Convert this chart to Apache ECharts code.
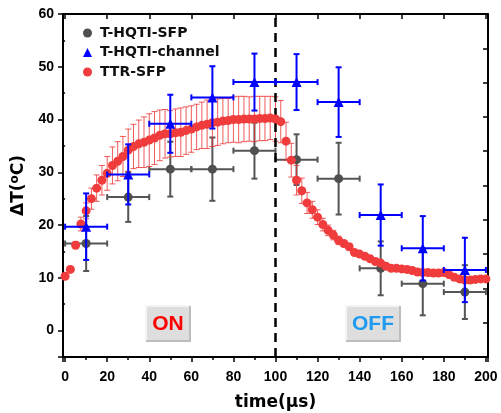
<!DOCTYPE html>
<html>
<head>
<meta charset="utf-8">
<script src="https://cdn.jsdelivr.net/npm/echarts@6/dist/echarts.min.js"></script>
<style>html,body{margin:0;padding:0;background:#fff;}#c{width:501px;height:413px;}</style>
</head>
<body>
<div id="c"></div>
<script>
// ---- data ----
const tGray = [10, 30, 50, 70, 90, 110, 130, 150, 170, 190];
const yGray = [16.5, 25.3, 30.6, 30.6, 34.1, 32.4, 28.8, 11.8, 8.9, 7.3];
const eyGray = [5.2, 4.7, 5.2, 6.0, 5.3, 4.8, 6.8, 5.1, 6.0, 5.1];
const exGray = [10, 10, 10, 10, 10, 10, 10, 10, 10, 10];

const tBlue = [10, 30, 50, 70, 90, 110, 130, 150, 170, 190];
const yBlue = [19.7, 29.6, 39.2, 44.2, 47.1, 47.1, 43.3, 21.9, 15.6, 11.5];
const eyBlue = [6.3, 5.7, 5.5, 5.9, 5.4, 5.3, 6.6, 5.8, 6.1, 6.1];
const exBlue = [10, 10, 10, 10, 10, 10, 10, 10, 10, 10];

const tRed = [0, 2.5, 5, 7.5, 10, 12.5, 15, 17.5, 20, 22.5, 25, 27.5, 30, 32.5, 35, 37.5, 40,
  42.5, 45, 47.5, 50, 52.5, 55, 57.5, 60, 62.5, 65, 67.5, 70, 72.5, 75, 77.5, 80,
  82.5, 85, 87.5, 90, 92.5, 95, 97.5, 100, 102.5, 105, 107.5, 110, 112.5, 115, 117.5, 120,
  122.5, 125, 127.5, 130, 132.5, 135, 137.5, 140, 142.5, 145, 147.5, 150, 152.5, 155, 157.5, 160,
  162.5, 165, 167.5, 170, 172.5, 175, 177.5, 180, 182.5, 185, 187.5, 190, 192.5, 195, 197.5, 200];
const yRed = [10.3, 11.6, 16.2, 20.2, 22.7, 25.0, 27.0, 28.5, 29.8, 31.3, 32.1, 33.0, 34.2, 34.9, 35.4, 35.7, 36.1,
  36.5, 37.0, 37.3, 37.3, 37.5, 37.6, 37.9, 38.2, 38.6, 38.9, 39.1, 39.4, 39.5, 39.7, 39.8, 40.0,
  40.0, 40.1, 40.1, 40.1, 40.2, 40.2, 40.3, 40.1, 39.6, 35.9, 32.3, 28.5, 26.5, 24.2, 22.9, 21.5,
  20.1, 19.0, 18.1, 17.1, 16.5, 15.9, 14.8, 14.5, 14.1, 13.6, 13.1, 12.8, 12.2, 11.8, 11.8, 11.7,
  11.6, 11.4, 11.1, 11.0, 11.0, 10.9, 10.9, 11.0, 10.6, 10.1, 9.8, 9.6, 9.6, 9.7, 9.8, 9.8];
const eRed = [0, 0, 0.7, 1.3, 1.5, 2.0, 2.5, 2.8, 3.2, 3.5, 3.7, 3.8, 4.0, 4.2, 4.5, 4.8, 5.0,
  5.0, 4.8, 4.6, 4.4, 4.5, 4.6, 4.5, 4.4, 4.3, 4.4, 4.6, 4.5, 4.4, 4.3, 4.2, 4.3,
  4.4, 4.3, 4.2, 4.3, 4.2, 4.2, 4.1, 4.2, 4.0, 3.6, 3.2, 2.8, 2.4, 2.0, 1.6, 1.4,
  1.2, 1.0, 0.9, 0.8, 0.6, 0.5, 0.4, 0.3, 0.3, 0.3, 0.3, 0.3, 0.3, 0.3, 0.3, 0.3,
  0.3, 0.3, 0.3, 0.3, 0.3, 0.3, 0.3, 0.3, 0.3, 0.3, 0.3, 0.3, 0.3, 0.3, 0.3, 0.3];

const xTicks = [0, 20, 40, 60, 80, 100, 120, 140, 160, 180, 200];
const yTicks = [0, 10, 20, 30, 40, 50, 60];
const switchTime = 100;
const names = ['T-HQTI-SFP', 'T-HQTI-channel', 'TTR-SFP'];

// ---- build ----
const zip = (t, y, ey, ex) => t.map((v, i) => [v, y[i], ey[i], ex ? ex[i] : 0]);
const grayData = zip(tGray, yGray, eyGray, exGray);
const blueData = zip(tBlue, yBlue, eyBlue, exBlue);
const redData = zip(tRed, yRed, eRed, null);

function errRender(color, lw, cap) {
  return function (params, api) {
    const x = api.value(0), y = api.value(1), ey = api.value(2), ex = api.value(3);
    const c = api.coord([x, y]);
    const style = { stroke: color, lineWidth: lw };
    const ch = [];
    if (ey > 0) {
      const t = api.coord([x, y + ey]), b = api.coord([x, y - ey]);
      ch.push({ type: 'line', shape: { x1: c[0], y1: t[1], x2: c[0], y2: b[1] }, style });
      ch.push({ type: 'line', shape: { x1: c[0] - cap, y1: t[1], x2: c[0] + cap, y2: t[1] }, style });
      ch.push({ type: 'line', shape: { x1: c[0] - cap, y1: b[1], x2: c[0] + cap, y2: b[1] }, style });
    }
    if (ex > 0) {
      const l = api.coord([x - ex, y]), r = api.coord([x + ex, y]);
      ch.push({ type: 'line', shape: { x1: l[0], y1: c[1], x2: r[0], y2: c[1] }, style });
      ch.push({ type: 'line', shape: { x1: l[0], y1: c[1] - cap, x2: l[0], y2: c[1] + cap }, style });
      ch.push({ type: 'line', shape: { x1: r[0], y1: c[1] - cap, x2: r[0], y2: c[1] + cap }, style });
    }
    return { type: 'group', children: ch };
  };
}

const tickFont = { fontFamily: 'Liberation Sans, Arial, sans-serif', fontWeight: 'bold', fontSize: 14, color: '#000' };
const axLine = { show: true, onZero: false, lineStyle: { color: '#000', width: 2 } };

const chart = echarts.init(document.getElementById('c'), null, { renderer: 'canvas' });
const option = {
  animation: false,
  backgroundColor: '#fff',
  grid: { left: 63, right: 13, top: 14, bottom: 56, containLabel: false, outerBoundsMode: 'none' },
  legend: {
    orient: 'vertical', left: 78, top: 21, itemWidth: 9, itemHeight: 9, itemGap: 5.5,
    data: [
      { name: names[0], icon: 'circle' },
      { name: names[1], icon: 'triangle' },
      { name: names[2], icon: 'circle' }
    ],
    textStyle: { fontFamily: 'DejaVu Sans, sans-serif', fontWeight: 'bold', fontSize: 14, color: '#111', lineHeight: 14, padding: [0, 0, 0, 3] }
  },
  xAxis: [
    {
      type: 'value', min: -1, max: 201, splitNumber: 10, position: 'bottom',
      axisLine: axLine,
      axisTick: { show: true, inside: false, length: 5, lineStyle: { color: '#000', width: 1.5 } },
      minorTick: { show: true, splitNumber: 2, length: 3, lineStyle: { color: '#000', width: 1.5 } },
      axisLabel: Object.assign({ margin: 13, formatter: v => xTicks.indexOf(v) >= 0 ? String(v) : '' }, tickFont),
      splitLine: { show: false },
      name: 'time(\u03bcs)', nameLocation: 'middle', nameGap: 37,
      nameTextStyle: { fontFamily: 'DejaVu Sans, sans-serif', fontWeight: 'bold', fontSize: 17, color: '#000' }
    },
    {
      type: 'value', min: -1, max: 201, splitNumber: 10, position: 'top',
      axisLine: axLine,
      axisTick: { show: true, inside: true, length: 5, lineStyle: { color: '#000', width: 1.5 } },
      axisLabel: { show: false }, splitLine: { show: false }
    }
  ],
  yAxis: [
    {
      type: 'value', min: -5, max: 60, splitNumber: 6, position: 'left',
      axisLine: axLine,
      axisTick: { show: true, inside: false, length: 5, lineStyle: { color: '#000', width: 1.5 } },
      axisLabel: Object.assign({ margin: 9, formatter: v => yTicks.indexOf(v) >= 0 ? String(v) : '' }, tickFont),
      splitLine: { show: false },
      name: '{a|\u0394T(}{s|o}{a|C)}', nameLocation: 'middle', nameGap: 33,
      nameTextStyle: {
        rich: {
          a: { fontFamily: 'DejaVu Sans, sans-serif', fontWeight: 'bold', fontSize: 17, color: '#000', lineHeight: 20 },
          s: { fontFamily: 'DejaVu Sans, sans-serif', fontWeight: 'bold', fontSize: 12, color: '#000', verticalAlign: 'top', lineHeight: 20, padding: [0, 0, 6, 0] }
        }
      }
    },
    {
      type: 'value', min: -5, max: 60, interval: 10, position: 'left', offset: 0,
      axisLine: { show: false },
      axisTick: { show: true, inside: false, length: 3, lineStyle: { color: '#000', width: 1.5 } },
      axisLabel: { show: false }, splitLine: { show: false }
    },
    {
      type: 'value', min: 0, max: 10, interval: 1, position: 'right',
      axisLine: axLine,
      axisTick: { show: true, inside: true, length: 5, lineStyle: { color: '#000', width: 1.5 } },
      axisLabel: { show: false }, splitLine: { show: false }
    }
  ],
  series: [
    {
      name: 'grayErr', type: 'custom', z: 2, renderItem: errRender('#555555', 2, 3),
      encode: { x: 0, y: 1 }, data: grayData, silent: true
    },
    {
      name: names[0], type: 'scatter', z: 3, symbol: 'circle', symbolSize: 9,
      itemStyle: { color: '#4f4f4f', opacity: 1 }, data: grayData.map(d => [d[0], d[1]])
    },
    {
      name: 'redErr', type: 'custom', z: 4, renderItem: errRender('rgba(236,50,50,0.8)', 1, 3),
      encode: { x: 0, y: 1 }, data: redData, silent: true,
      markLine: {
        silent: true, symbol: 'none', label: { show: false },
        lineStyle: { color: '#000', width: 2.5, type: [9, 6] },
        data: [{ xAxis: switchTime }]
      }
    },
    {
      name: names[2], type: 'scatter', z: 5, symbol: 'circle', symbolSize: 9,
      itemStyle: { color: '#f03c3c', opacity: 1 }, data: redData.map(d => [d[0], d[1]])
    },
    {
      name: 'blueErr', type: 'custom', z: 6, renderItem: errRender('#0000ff', 2, 3),
      encode: { x: 0, y: 1 }, data: blueData, silent: true
    },
    {
      name: names[1], type: 'scatter', z: 7, symbol: 'triangle', symbolSize: 10,
      itemStyle: { color: '#0000ff', opacity: 1 }, data: blueData.map(d => [d[0], d[1]])
    }
  ],
  graphic: [
    { type: 'rect', shape: { x: 146, y: 306, width: 44, height: 35 }, style: { fill: '#dedede' }, z: 10 },
    { type: 'polyline', shape: { points: [[146, 341], [146, 306], [190, 306]] }, style: { stroke: '#f4f4f4', lineWidth: 2, fill: null }, z: 11 },
    { type: 'polyline', shape: { points: [[146, 341], [190, 341], [190, 306]] }, style: { stroke: '#bdbdbd', lineWidth: 2, fill: null }, z: 11 },
    { type: 'text', x: 168, y: 324, style: { text: 'ON', fill: '#ff0000', font: 'bold 21px "Liberation Sans", Arial, sans-serif', align: 'center', verticalAlign: 'middle' }, z: 12 },
    { type: 'rect', shape: { x: 346, y: 306, width: 54, height: 35 }, style: { fill: '#dedede' }, z: 10 },
    { type: 'polyline', shape: { points: [[346, 341], [346, 306], [400, 306]] }, style: { stroke: '#f4f4f4', lineWidth: 2, fill: null }, z: 11 },
    { type: 'polyline', shape: { points: [[346, 341], [400, 341], [400, 306]] }, style: { stroke: '#bdbdbd', lineWidth: 2, fill: null }, z: 11 },
    { type: 'text', x: 373, y: 324, style: { text: 'OFF', fill: '#1e9af0', font: 'bold 21px "Liberation Sans", Arial, sans-serif', align: 'center', verticalAlign: 'middle' }, z: 12 }
  ]
};
chart.setOption(option);
</script>
</body>
</html>
